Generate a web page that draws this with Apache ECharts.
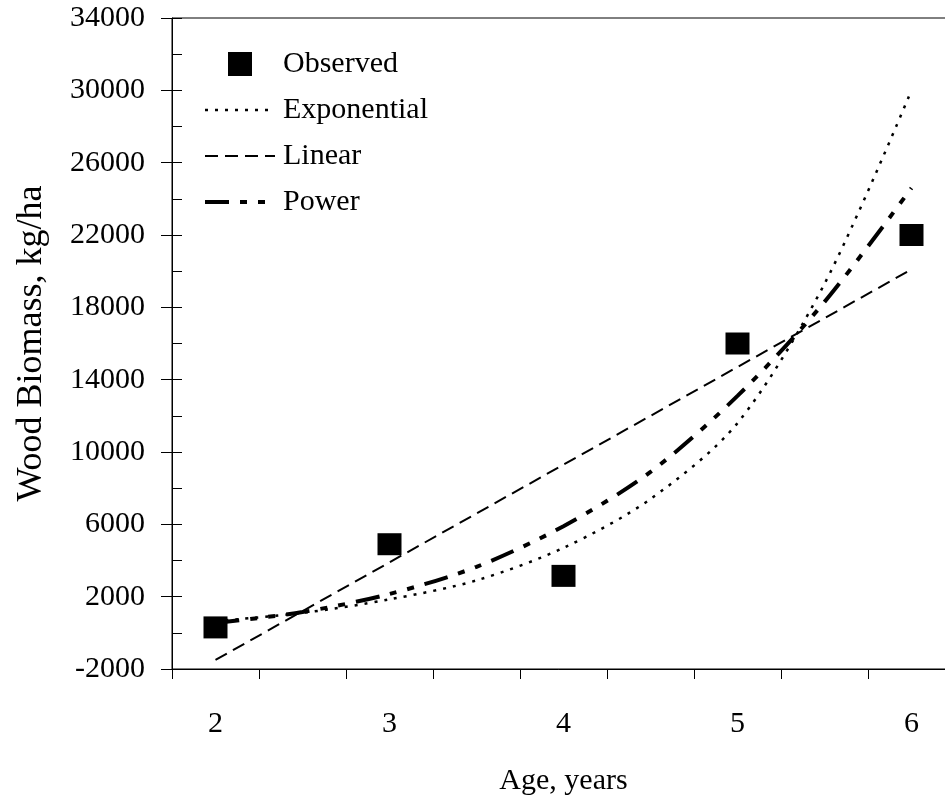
<!DOCTYPE html>
<html>
<head>
<meta charset="utf-8">
<style>
  html, body { margin: 0; padding: 0; background: #fff; }
  #chart { width: 945px; height: 797px; }
</style>
<script src="https://cdn.jsdelivr.net/npm/echarts@6/dist/echarts.min.js"></script>
</head>
<body>
<div id="chart"></div>
<script>
// observed wood biomass by stand age
const ages = [2, 3, 4, 5, 6]
const observed = [300, 4900, 3150, 16000, 22000]

// fitted curves
const curveAges = [2, 2.5, 3, 3.5, 4, 4.5, 5, 5.5, 6]
const exponential = [650, 1100, 1850, 2900, 4700, 7400, 11600, 19300, 30000]
const power = [550, 1150, 2150, 3650, 5900, 8900, 13100, 18300, 24600]
const linear = [-1500, 3900, 9300, 14700, 20100]

const yTicks = { min: -2000, max: 34000, major: 4000, minor: 2000 }
const xRange = { min: 1.75, max: 6.25 }

const font = 'Liberation Serif'
const black = '#000'

const chart = echarts.init(document.getElementById('chart'))

const pairs = (xs, ys) => xs.map((x, i) => [x, ys[i]])

// legend lines without the point symbol
const lineItem = (name, width) => ({
  name: name,
  itemStyle: { opacity: 0 },
  lineStyle: { width: width }
})

chart.setOption({
  backgroundColor: '#fff',
  animation: false,
  textStyle: { fontFamily: font, color: black },
  grid: {
    left: 172,
    top: 18,
    right: -10, // frame runs off the right edge
    bottom: 128,
    outerBoundsMode: 'none',
    show: true,
    borderColor: black,
    borderWidth: 1
  },
  legend: {
    orient: 'vertical',
    left: 198,
    top: 44,
    itemWidth: 70,
    itemHeight: 24,
    itemGap: 16,
    textStyle: {
      fontFamily: font,
      fontSize: 30,
      color: black,
      padding: [0, 0, 0, 3]
    },
    data: [
      { name: 'Observed', icon: 'path://M0,0H10V10H0Z', itemStyle: { opacity: 1 } },
      lineItem('Exponential', 2.5),
      lineItem('Linear', 2),
      lineItem('Power', 4)
    ]
  },
  xAxis: [{
    type: 'value',
    min: xRange.min,
    max: xRange.max,
    interval: 0.25,
    name: 'Age, years',
    nameLocation: 'middle',
    nameGap: 97,
    nameTextStyle: { fontFamily: font, fontSize: 30, color: black },
    axisLine: { onZero: false, lineStyle: { color: black, width: 1 } },
    axisTick: { show: false },
    splitLine: { show: false },
    axisLabel: {
      fontFamily: font,
      fontSize: 30,
      color: black,
      margin: 40,
      formatter: v => (Number.isInteger(v) ? String(v) : '')
    }
  }, {
    // tick marks sit half way between the age labels
    type: 'value',
    position: 'bottom',
    min: 0,
    max: xRange.max - xRange.min,
    interval: 0.5,
    axisLine: { show: false, onZero: false },
    axisTick: { show: true, length: 10, lineStyle: { color: black } },
    axisLabel: { show: false },
    splitLine: { show: false }
  }],
  yAxis: [{
    type: 'value',
    min: yTicks.min,
    max: yTicks.max,
    interval: yTicks.major,
    name: 'Wood Biomass, kg/ha',
    nameLocation: 'middle',
    nameGap: 122,
    nameRotate: 90,
    nameTextStyle: { fontFamily: font, fontSize: 36, color: black },
    axisLine: { show: true, onZero: false, lineStyle: { color: black, width: 1 } },
    axisTick: { show: true, length: 11, lineStyle: { color: black } },
    splitLine: { show: false },
    axisLabel: {
      fontFamily: font,
      fontSize: 30,
      color: black,
      margin: 27,
      formatter: v => String(v)
    }
  }, {
    type: 'value',
    position: 'left',
    min: yTicks.min,
    max: yTicks.max,
    interval: yTicks.minor,
    axisLine: { show: false, onZero: false },
    axisTick: { show: true, inside: true, length: 10, lineStyle: { color: black } },
    axisLabel: { show: false },
    splitLine: { show: false }
  }],
  series: [{
    name: 'Exponential',
    type: 'line',
    smooth: 0.3,
    symbol: 'none',
    lineStyle: { color: black, width: 2.5, type: [3, 7] },
    itemStyle: { color: black },
    data: pairs(curveAges, exponential)
  }, {
    name: 'Linear',
    type: 'line',
    symbol: 'none',
    lineStyle: { color: black, width: 2, type: [13, 7] },
    itemStyle: { color: black },
    data: pairs(ages, linear)
  }, {
    name: 'Power',
    type: 'line',
    smooth: 0.3,
    symbol: 'none',
    lineStyle: { color: black, width: 4, type: [24, 11, 7, 11, 7, 11] },
    itemStyle: { color: black },
    data: pairs(curveAges, power)
  }, {
    name: 'Observed',
    type: 'scatter',
    symbol: 'rect',
    symbolSize: [24, 22],
    z: 5,
    itemStyle: { color: black, opacity: 1 },
    data: pairs(ages, observed)
  }]
})
</script>
</body>
</html>
